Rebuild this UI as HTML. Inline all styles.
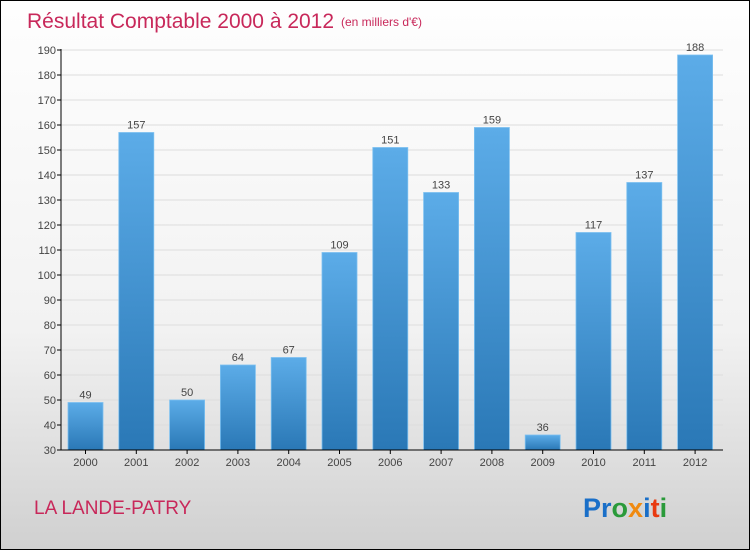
<!DOCTYPE html>
<html><head><meta charset="utf-8">
<style>
body{margin:0;width:750px;height:550px;overflow:hidden;font-family:"Liberation Sans",sans-serif}
#wrap{position:absolute;left:0;top:0;width:748px;height:548px;border:1px solid #000;background:linear-gradient(#fefefe 0%,#f2f2f2 60%,#d0d0d0 100%)}
</style></head><body>
<div id="wrap">
<svg width="748" height="548" viewBox="0 0 748 548">
<defs><linearGradient id="bg" x1="0" y1="0" x2="0" y2="1"><stop offset="0" stop-color="#5cace8"/><stop offset="1" stop-color="#2a78b6"/></linearGradient></defs>
<text x="26" y="27" font-size="21" fill="#c8285a">Résultat Comptable 2000 à 2012</text>
<text x="340" y="25" font-size="12" fill="#c8285a">(en milliers d'€)</text>
<g id="grid"></g><g id="bars"></g><g id="axes"></g>
<text x="33" y="513" font-size="19" fill="#c8285a">LA LANDE-PATRY</text>
<text x="582" y="516" font-size="27" font-weight="bold"><tspan fill="#1a6fc8">Pr</tspan><tspan fill="#2a9a3a">o</tspan><tspan fill="#f08a10">x</tspan><tspan fill="#1a6fc8">i</tspan><tspan fill="#e83a10">t</tspan><tspan fill="#2a9a3a">i</tspan></text>
</svg></div>
<script>
const categories=["2000","2001","2002","2003","2004","2005","2006","2007","2008","2009","2010","2011","2012"];
const values=[49,157,50,64,67,109,151,133,159,36,117,137,188];
const yTicks=[30,40,50,60,70,80,90,100,110,120,130,140,150,160,170,180,190];
const NS="http://www.w3.org/2000/svg";
const y=v=>449-(v-30)*2.5;
const x=i=>84.5+i*50.8;
function mk(t,a,p){const e=document.createElementNS(NS,t);for(const k in a)e.setAttribute(k,a[k]);p.appendChild(e);return e;}
const g=document.getElementById('grid'),b=document.getElementById('bars'),ax=document.getElementById('axes');
yTicks.forEach(v=>{
 const l=mk('line',{x1:60,x2:722,y1:y(v),y2:y(v),stroke:'#ddd','stroke-width':1},g);
 
 
 const tk=mk('line',{x1:56,x2:60,y1:y(v),y2:y(v),stroke:'#000'},ax);
 
 
 const t=mk('text',{x:55,y:y(v)+4,'font-size':11,fill:'#444','text-anchor':'end'},ax);t.textContent=v;
 
 
});
categories.forEach((c,i)=>{
 const r=mk('rect',{x:x(i)-17.5,y:y(values[i]),width:35,height:y(30)-y(values[i]),fill:'url(#bg)',stroke:'#7cc0f0','stroke-width':0.8},b);
 
 
 const vl=mk('text',{x:x(i),y:y(values[i])-4,'font-size':11,fill:'#444','text-anchor':'middle'},b);vl.textContent=values[i];
 
 
 const tk=mk('line',{x1:x(i),x2:x(i),y1:449,y2:453,stroke:'#000'},ax);
 
 
 const t=mk('text',{x:x(i),y:465,'font-size':11,fill:'#444','text-anchor':'middle'},ax);t.textContent=c;
 
 
});
const ya=mk('line',{x1:60,x2:60,y1:48,y2:449,stroke:'#000'},ax);


const xa=mk('line',{x1:60,x2:722,y1:449,y2:449,stroke:'#000'},ax);


</script>
</body></html>
